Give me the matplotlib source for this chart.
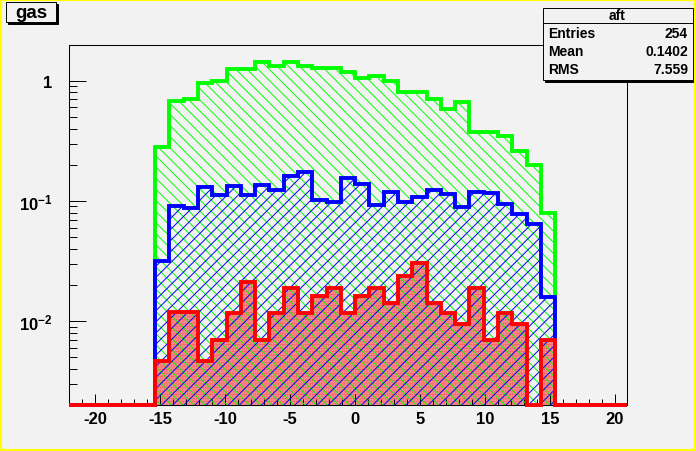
import numpy as np
import matplotlib
matplotlib.use("Agg")
from matplotlib import pyplot as plt
from matplotlib.patches import Rectangle

# histogram binning (39 bins of 1.1 from -22 to 20.9, first filled bin is #6)
X_LOW, X_HIGH, N_BINS = -22.0, 20.9, 39
FIRST_FILLED = 6
Y_MIN, Y_MAX = 0.002, 2.0

green = [0.282, 0.674, 0.704, 0.963, 0.994, 1.25, 1.25, 1.44, 1.32, 1.44, 1.34, 1.28, 1.27, 1.19,
         1.05, 1.10, 0.99, 0.805, 0.805, 0.704, 0.582, 0.669, 0.372, 0.372, 0.345, 0.262, 0.199, 0.080]
blue = [0.0318, 0.0902, 0.0873, 0.130, 0.113, 0.132, 0.112, 0.137, 0.124, 0.162, 0.173, 0.101, 0.0985, 0.156,
        0.138, 0.0917, 0.119, 0.0985, 0.107, 0.124, 0.114, 0.0895, 0.118, 0.116, 0.0943, 0.0777, 0.0644, 0.0159]
red = [0.00469, 0.0118, 0.0118, 0.00469, 0.00696, 0.0117, 0.0213, 0.00696, 0.0117, 0.0187, 0.0117, 0.0163, 0.0187, 0.0117,
       0.0163, 0.0187, 0.0141, 0.0236, 0.0304, 0.0141, 0.0117, 0.0094, 0.0187, 0.00698, 0.0117, 0.0094, 0.0, 0.00698]

x_ticks = [-20, -15, -10, -5, 0, 5, 10, 15, 20]
y_ticks = [0.01, 0.1, 1]
y_ticklabels = [r"$\mathbf{10^{-2}}$", r"$\mathbf{10^{-1}}$", "1"]

stats_title = "aft"
stats_rows = [("Entries", "254"), ("Mean", "0.1402"), ("RMS", "7.559")]
pad_title = "gas"

plt.rcParams["font.family"] = ["Liberation Sans", "DejaVu Sans"]
plt.rcParams["axes.unicode_minus"] = False
plt.rcParams["mathtext.fontset"] = "custom"
plt.rcParams["mathtext.bf"] = "Liberation Sans:bold"
plt.rcParams["mathtext.rm"] = "Liberation Sans"
plt.rcParams["hatch.linewidth"] = 0.7

BG = "#f2f2f2"
W, H = 696, 452

def fx(px):
	return px / W

def fy(py):
	return 1 - py / H

fig = plt.figure(figsize=(W / 100, H / 100), dpi=100, facecolor=BG)
ax = fig.add_axes([fx(69.3), fy(406), (626.7 - 69.3) / W, (406 - 45.7) / H], facecolor=BG)

edges = np.linspace(X_LOW, X_HIGH, N_BINS + 1)

def full(vals):
	arr = np.zeros(N_BINS)
	arr[FIRST_FILLED:FIRST_FILLED + len(vals)] = vals
	return np.where(arr > 0, arr, Y_MIN)

g, b, r = full(green), full(blue), full(red)

# fills (hatch patterns)
ax.stairs(r, edges, baseline=Y_MIN, fill=True, facecolor="none", edgecolor="#ff0000",
          hatch="............", linewidth=0, zorder=1)
ax.stairs(g, edges, baseline=Y_MIN, fill=True, facecolor="none", edgecolor="#00ff00",
          hatch="\\\\\\", linewidth=0, zorder=2)
ax.stairs(b, edges, baseline=Y_MIN, fill=True, facecolor="none", edgecolor="#0000ff",
          hatch="///", linewidth=0, zorder=2)

# outlines
for vals, col, z in [(g, "#00ff00", 4), (b, "#0000ff", 5), (r, "#ff0000", 6)]:
	st = ax.stairs(vals, edges, baseline=Y_MIN, fill=False, color=col, linewidth=2.8,
	               clip_on=False, zorder=z)
	st.set_joinstyle("miter")

ax.set_yscale("log")
ax.set_xlim(X_LOW, X_HIGH)
ax.set_ylim(Y_MIN, Y_MAX)

ax.set_xticks(x_ticks)
ax.set_xticklabels([str(t) for t in x_ticks], fontweight="bold", fontsize=12)
ax.set_xticks(np.arange(-22, 21), minor=True)
ax.set_yticks(y_ticks)
ax.set_yticklabels(y_ticklabels, fontweight="bold", fontsize=12)
minor_y = [m * 10.0 ** e for e in (-3, -2, -1, 0) for m in range(2, 10)]
ax.set_yticks([v for v in minor_y if Y_MIN <= v <= Y_MAX], minor=True)
ax.yaxis.set_minor_formatter(matplotlib.ticker.NullFormatter())

ax.tick_params(axis="x", which="major", direction="in", length=8, width=0.7, pad=4)
ax.tick_params(axis="x", which="minor", direction="in", length=4, width=0.7)
ax.tick_params(axis="y", which="major", direction="in", length=12, width=0.7, pad=12)
ax.tick_params(axis="y", which="minor", direction="in", length=6, width=0.7)
for s in ax.spines.values():
	s.set_linewidth(0.75)

# title box with shadow
def shadow_box(x0, y0, x1, y1, z=5):
	fig.patches.append(Rectangle((fx(x0 + 2), fy(y1 + 2)), (x1 - x0) / W, (y1 - y0) / H,
	                             transform=fig.transFigure, facecolor="black", edgecolor="black",
	                             linewidth=0.7, zorder=z))
	fig.patches.append(Rectangle((fx(x0), fy(y1)), (x1 - x0) / W, (y1 - y0) / H,
	                             transform=fig.transFigure, facecolor=BG, edgecolor="black",
	                             linewidth=0.7, zorder=z + 0.1))

shadow_box(6, 3, 56, 23)
fig.text(fx(31), fy(13.5), pad_title, ha="center", va="center", fontsize=13.5,
         fontweight="bold", zorder=7)

# stats box
shadow_box(542.7, 9.3, 692.5, 80.5)
fig.lines.append(matplotlib.lines.Line2D([fx(542.7), fx(692.5)], [fy(24), fy(24)],
                                         transform=fig.transFigure, color="black",
                                         linewidth=0.7, zorder=7))
fig.text(fx(617.5), fy(16.5), stats_title, ha="center", va="center", fontsize=10,
         fontweight="bold", zorder=7)
for i, (k, v) in enumerate(stats_rows):
	yy = 34 + i * 18
	fig.text(fx(548), fy(yy), k, ha="left", va="center", fontsize=10, fontweight="bold", zorder=7)
	fig.text(fx(688), fy(yy), v, ha="right", va="center", fontsize=10, fontweight="bold", zorder=7)

# yellow canvas frame
fig.patches.append(Rectangle((0, 0), 1, 1, transform=fig.transFigure, fill=False,
                             edgecolor="#ffff00", linewidth=3, zorder=10))

fig.savefig("out.png", dpi=100, facecolor=BG)
